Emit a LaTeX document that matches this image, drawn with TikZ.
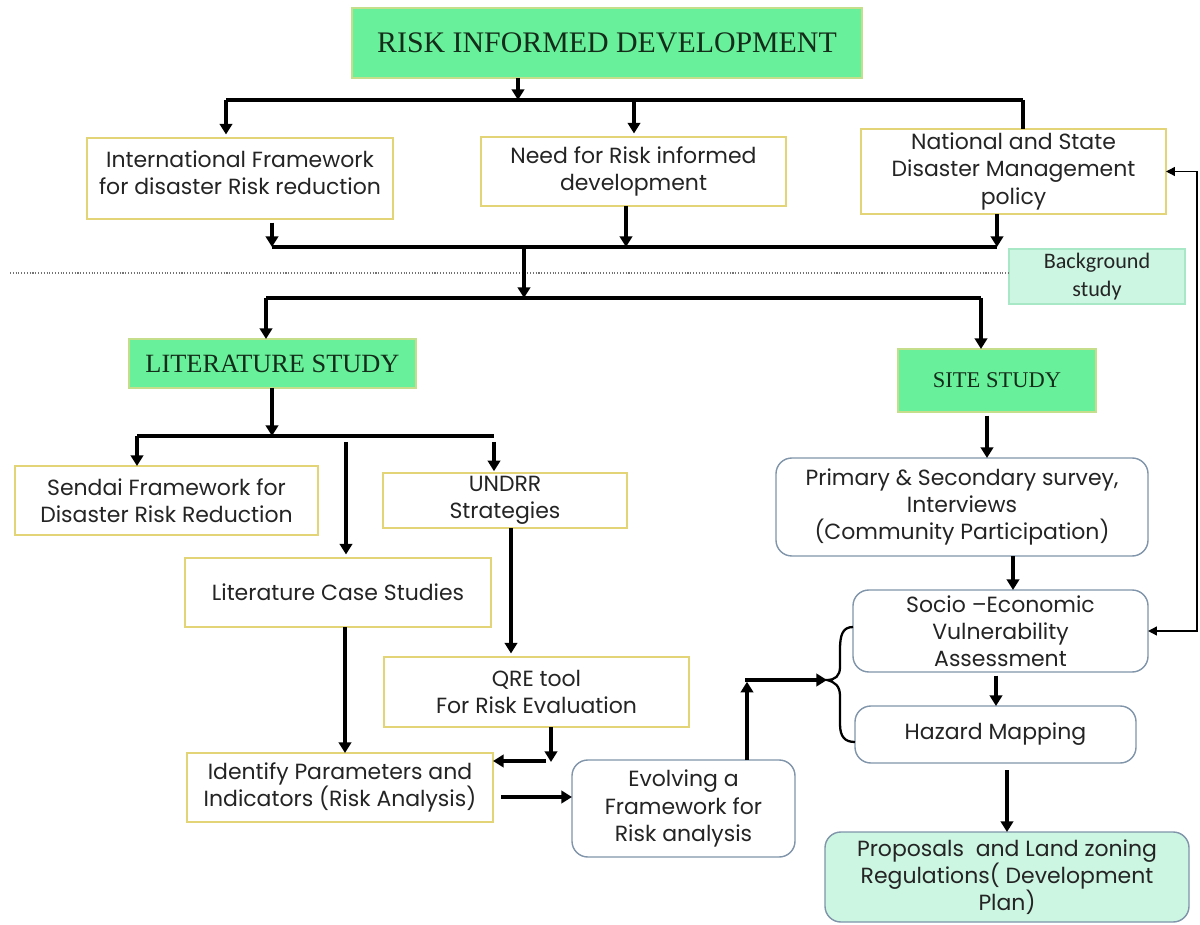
\documentclass[tikz,border=0pt]{standalone}
\usepackage{fontspec}
\setmainfont{Poppins}
\newfontfamily\headfont{Liberation Serif}
\newfontfamily\notefont{Carlito}
\usetikzlibrary{arrows.meta,calc}

\definecolor{headgreen}{RGB}{104,240,154}
\definecolor{headedge}{RGB}{196,222,140}
\definecolor{boxedge}{RGB}{228,212,120}
\definecolor{roundedge}{RGB}{128,148,170}
\definecolor{mintfill}{RGB}{204,246,226}
\definecolor{mintedge}{RGB}{168,232,198}
\definecolor{inktext}{RGB}{36,36,36}
\definecolor{headtext}{RGB}{20,44,26}

\begin{document}
\begin{tikzpicture}[x=0.02cm,y=-0.02cm,
  every node/.style={inner sep=0pt,outer sep=0pt},
  boxsize/.style 2 args={minimum width=#1*0.02cm,minimum height=#2*0.02cm},
  bodytext/.style={align=center,text=inktext,font=\fontsize{12.5}{15.4}\selectfont},
  plain/.style={bodytext,draw=boxedge,line width=0.8pt,fill=white},
  rbox/.style={bodytext,draw=roundedge,line width=0.8pt,fill=white,rounded corners=9pt},
  head/.style={draw=headedge,line width=0.6pt,fill=headgreen,text=headtext,align=center},
  note/.style={draw=mintedge,line width=0.6pt,fill=mintfill,text=inktext,align=center,
    font=\notefont\fontsize{12.6}{16}\selectfont},
  bus/.style={line width=2.2pt},
  arr/.style={line width=2.2pt,-{Triangle[width=7pt,length=6pt]}},
  fbarr/.style={line width=0.8pt,{Triangle[width=5pt,length=5pt]}-{Triangle[width=5pt,length=5pt]}},
  dotline/.style={densely dotted,line width=0.6pt,black!55},
  bracepath/.style={line width=1.3pt,black}
]
\fill[white] (0,0) rectangle (1200,925);
\useasboundingbox (0,0) rectangle (1200,925);

% ---------- boxes ----------
\node[head,boxsize={510}{70},font=\headfont\fontsize{17}{20}\selectfont] (title) at (607,43) {RISK INFORMED DEVELOPMENT};

\node[plain,boxsize={306}{81}] (intl) at (240,178.5) {International Framework\\for disaster Risk reduction\\[-8.6pt]\mbox{}};
\node[plain,boxsize={305}{69}] (need) at (633.5,171.5) {Need for Risk informed\\development};
\node[plain,boxsize={305}{85}] (natl) at (1013.5,171.5) {National and State\\Disaster Management\\policy};

\node[note,boxsize={176}{55}] (bg) at (1097,276.5) {Background\\study};

\node[head,boxsize={287}{49},font=\headfont\fontsize{15}{18}\selectfont] (lit) at (272.5,363.5) {LITERATURE STUDY};
\node[head,boxsize={198}{63},font=\headfont\fontsize{12.8}{15}\selectfont] (site) at (997,380.5) {SITE STUDY};

\node[plain,boxsize={303}{69}] (sendai) at (166.5,500.5) {Sendai Framework for\\Disaster Risk Reduction};
\node[plain,boxsize={244}{55}] (undrr) at (505,500.5) {UNDRR\\Strategies};
\node[plain,boxsize={306}{69}] (litcase) at (338,592.5) {Literature Case Studies};
\node[plain,boxsize={305}{70}] (qre) at (536.5,692) {QRE tool\\For Risk Evaluation};
\node[plain,boxsize={306}{69}] (ident) at (340,787.5) {Identify Parameters and\\Indicators (Risk Analysis)};
\node[rbox,boxsize={223}{97}] (evolv) at (683.5,808.5) {Evolving a\\Framework for\\Risk analysis};

\node[rbox,boxsize={372}{98}] (prim) at (962,507) {Primary \& Secondary survey,\\Interviews\\(Community Participation)};
\node[rbox,boxsize={295}{82}] (socio) at (1000.5,631) {Socio –Economic\\Vulnerability\\Assessment};
\node[rbox,boxsize={281}{57}] (hazard) at (995.5,734.5) {Hazard Mapping};
\node[rbox,fill=mintfill,boxsize={364}{90}] (prop) at (1007,877) {Proposals\ \ and Land zoning\\Regulations( Development\\Plan)};

% ---------- junction points ----------
\coordinate (xT) at (518,0);
\coordinate (xN) at (634,0);
\coordinate (xN2) at (626,0);
\coordinate (b1l) at (226,100);
\coordinate (b1r) at (1023,100);
\coordinate (b2l) at (272,247);
\coordinate (b2r) at (997,247);
\coordinate (b2m) at (524,247);
\coordinate (b3m) at (524,298);
\coordinate (b3l) at (266,298);
\coordinate (b3r) at (981,298);
\coordinate (dl) at (10,273);
\coordinate (b4l) at (137,436);
\coordinate (b4r) at (494,436);
\coordinate (g4m) at (346,442);
\coordinate (g4r) at (494,442);
\coordinate (xU) at (511,0);
\coordinate (xC) at (345,0);
\coordinate (qj) at (551,762);
\coordinate (qk) at (546,761);
\coordinate (ie) at (501,797);
\coordinate (eu) at (747,680);
\coordinate (bt) at (827,680);
\coordinate (bs) at (853,627);
\coordinate (be) at (855,742);
\coordinate (xS) at (987,0);
\coordinate (xP) at (1013,0);
\coordinate (xV) at (996,0);
\coordinate (xH) at (1007,0);
\coordinate (fb) at (1197,0);

% ---------- background study tier ----------
\draw[arr] (title.south -| xT) -- (b1l -| xT);
\draw[bus] (b1l) -- (b1r);
\draw[arr] (b1l) -- ([yshift=2pt]intl.north -| b1l);
\draw[arr] (b1l -| xN) -- ([yshift=2pt]need.north -| xN);
\draw[bus] (b1r) -- (natl.north -| b1r);

\draw[arr] ([yshift=-2pt]intl.south -| b2l) -- (b2l);
\draw[arr] (need.south -| xN2) -- (b2l -| xN2);
\draw[arr] (natl.south -| b2r) -- (b2r);
\draw[bus] (b2l) -- (b2r);

\draw[dotline] (dl) -- (dl -| bg.west);

\draw[arr] (b2m) -- (b3m);
\draw[bus] (b3l) -- (b3r);
\draw[arr] (b3l) -- (lit.north -| b3l);
\draw[arr] (b3r) -- (site.north -| b3r);

% ---------- literature study branch ----------
\draw[arr] (lit.south -| b2l) -- (b4l -| b2l);
\draw[bus] (b4l) -- (b4r);
\draw[arr] (b4l) -- (sendai.north -| b4l);
\draw[arr] (g4m) -- ([yshift=2pt]litcase.north -| g4m);
\draw[arr] (g4r) -- ([yshift=1pt]undrr.north -| g4r);
\draw[arr] (undrr.south -| xU) -- ([yshift=2pt]qre.north -| xU);
\draw[arr] (litcase.south -| xC) -- (ident.north -| xC);
\draw[arr] (qre.south -| qj) -- (qj);
\draw[arr] (qk) -- (ident.east |- qk);
\draw[arr] (ie) -- (evolv.west |- ie);
\draw[arr] (evolv.north -| eu) -- ([yshift=-1pt]eu);
\draw[arr] ([xshift=-1pt]eu) -- (bt);

% brace grouping the two assessment boxes
\draw[bracepath] (bs) .. controls (842,627) and (840,636) .. (840,650)
  -- (840,667) .. controls (840,676) and (835,680) .. (bt)
  .. controls (835,682) and (840,686) .. (840,696)
  -- (840,724) .. controls (840,737) and (845,742) .. (be);

% ---------- site study branch ----------
\draw[arr] ([yshift=-2pt]site.south -| xS) -- (prim.north -| xS);
\draw[arr] (prim.south -| xP) -- (socio.north -| xP);
\draw[arr] ([yshift=-2pt]socio.south -| xV) -- (hazard.north -| xV);
\draw[arr] ([yshift=-4pt]hazard.south -| xH) -- (prop.north -| xH);

% feedback link between assessment and policy
\draw[fbarr] (natl.east) -- (natl.east -| fb) -- (socio.east -| fb) -- (socio.east);
\end{tikzpicture}
\end{document}
